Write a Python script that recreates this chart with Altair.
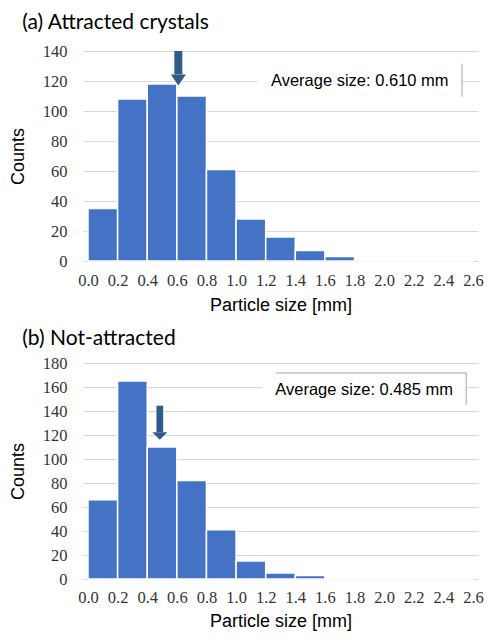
import altair as alt
import pandas as pd

bin_start = [0.0, 0.2, 0.4, 0.6, 0.8, 1.0, 1.2, 1.4, 1.6, 1.8, 2.0, 2.2, 2.4]
bin_end = [0.2, 0.4, 0.6, 0.8, 1.0, 1.2, 1.4, 1.6, 1.8, 2.0, 2.2, 2.4, 2.6]
counts_attracted = [35, 108, 118, 110, 61, 28, 16, 7, 3, 0, 0, 1, 0]
counts_not_attracted = [66, 165, 110, 82, 41, 15, 5, 3, 1, 0, 0, 0, 0]
x_ticks = [0.0, 0.2, 0.4, 0.6, 0.8, 1.0, 1.2, 1.4, 1.6, 1.8, 2.0, 2.2, 2.4, 2.6]
avg_attracted = 0.610
avg_not_attracted = 0.485
title_a = "(a) Attracted crystals"
title_b = "(b) Not-attracted"
label_a = "Average size: 0.610 mm"
label_b = "Average size: 0.485 mm"

BAR = "#4472C4"
ARROW = "#2F5A8C"
GRID = "#D9D9D9"
BORDER = "#A6A6A6"
SERIF = "'Liberation Serif', 'Times New Roman', serif"
SANS = "'Liberation Sans', Arial, sans-serif"


def panel(counts, ymax, ystep, width, height, title, title_offset, x_lpad, x_tpad,
          avg, arrow_top, arrow_base, head_path, shaft_w, box, border_top, text_pos, text):
    df = pd.DataFrame({"start": bin_start, "end": bin_end, "count": counts,
                       "zero": [0] * len(counts)})
    xs = alt.Scale(domain=[0, 2.6], nice=False, zero=False)
    ys = alt.Scale(domain=[0, ymax], nice=False)
    x_axis = alt.Axis(values=x_ticks, format=".1f", title="Particle size [mm]",
                      grid=False, ticks=False, tickSize=0, domain=False,
                      labelFont=SERIF, labelFontSize=16.5, labelColor="#333333",
                      labelPadding=x_lpad, labelFlush=False, labelOverlap=False,
                      titleFont=SANS, titleFontSize=18, titleFontWeight="normal",
                      titleColor="#000000", titlePadding=x_tpad)
    y_axis = alt.Axis(values=list(range(0, ymax + 1, ystep)), title="Counts",
                      grid=True, gridColor=GRID, gridWidth=1.2, ticks=False, tickSize=0,
                      domain=False, labelFont=SERIF, labelFontSize=16.5,
                      labelColor="#333333", labelPadding=16, labelOverlap=False,
                      titleFont=SANS, titleFontSize=18, titleFontWeight="normal",
                      titleColor="#000000", titlePadding=15)
    X = lambda f: alt.X(f + ":Q", scale=xs, axis=x_axis)
    Y = lambda f: alt.Y(f + ":Q", scale=ys, axis=y_axis)
    bars = alt.Chart(df).mark_bar(color=BAR, stroke="white", strokeWidth=1.5,
                                  orient="vertical").encode(
        x=X("start"), x2="end:Q", y=Y("count"), y2="zero:Q")
    x0, x1, y0, y1 = box
    ann = pd.DataFrame({
        "ax": [avg], "atop": [arrow_top], "abase": [arrow_base],
        "bx0": [x0], "bx1": [x1], "by0": [y0], "by1": [y1],
        "tbx": [border_top if border_top is not None else x1],
        "tx": [text_pos[0]], "ty": [text_pos[1]],
    })
    shaft = alt.Chart(ann).mark_rule(color=ARROW, strokeWidth=shaft_w).encode(
        x=X("ax"), y=Y("atop"), y2="abase:Q")
    head = alt.Chart(ann).mark_point(shape=head_path, size=225, filled=True, color=ARROW,
                                     opacity=1, strokeWidth=0).encode(x=X("ax"), y=Y("abase"))
    wbox = alt.Chart(ann).mark_rect(color="white").encode(
        x=X("bx0"), x2="bx1:Q", y=Y("by0"), y2="by1:Q")
    rborder = alt.Chart(ann).mark_rule(color=BORDER, strokeWidth=1).encode(
        x=X("bx1"), y=Y("by0"), y2="by1:Q")
    layers = [bars, wbox, rborder]
    if border_top is not None:
        tborder = alt.Chart(ann).mark_rule(color=BORDER, strokeWidth=1).encode(
            x=X("tbx"), x2="bx1:Q", y=Y("by1"))
        layers.append(tborder)
    txt = alt.Chart(ann).mark_text(text=text, font=SANS, fontSize=16.5, align="left",
                                   baseline="middle", color="#000000").encode(
        x=X("tx"), y=Y("ty"))
    layers += [txt, shaft, head]
    return alt.layer(*layers).properties(
        width=width, height=height,
        title=alt.TitleParams(title, anchor="start", frame="bounds", font="Lato",
                              fontSize=21, fontWeight="normal", color="#000000",
                              offset=title_offset, dx=13),
    )


pa = panel(counts_attracted, 140, 20, 395, 210, title_a, 10, 11, 8,
           avg_attracted, 140, 124.4, "M-1,0L1,0L0,1.47Z", 8,
           (1.143, 2.526, 109.5, 131.5), None, (1.2355, 120.2), label_a)
pb = panel(counts_not_attracted, 180, 20, 395, 216, title_b, 6, 10, 7,
           avg_not_attracted, 144.4, 122.3, "M-1,0L1,0L0,1Z", 6.7,
           (1.175, 2.554, 145.2, 171.7), 1.267, (1.265, 157.5), label_b)

chart = alt.vconcat(pa, pb, spacing=13).configure(
    padding={"left": 1, "top": 4, "right": 0, "bottom": 0}
).configure_view(stroke=None)
chart.save("out.html", embed_options={"renderer": "svg", "actions": False})
